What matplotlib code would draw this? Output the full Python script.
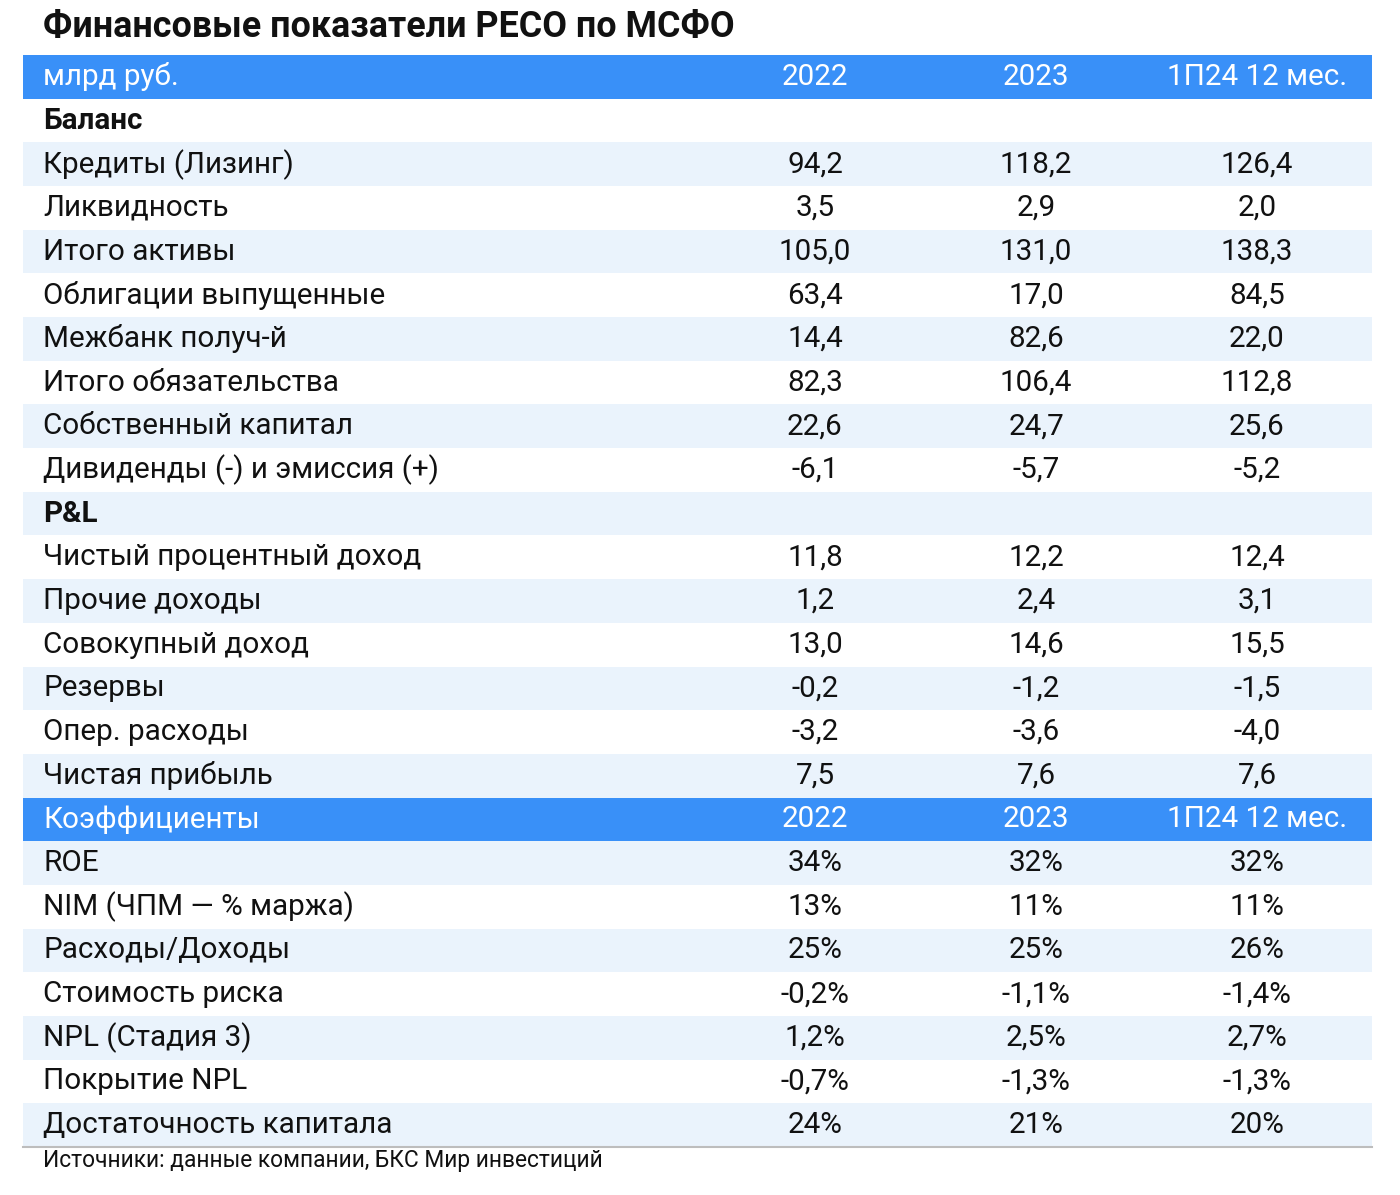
import matplotlib
matplotlib.use("Agg")
import matplotlib.pyplot as plt
from matplotlib.patches import Rectangle
from matplotlib import font_manager

names = {f.name for f in font_manager.fontManager.ttflist}
FONT = "Liberation Sans Narrow" if "Liberation Sans Narrow" in names else "Roboto"
plt.rcParams['font.family'] = [FONT, 'DejaVu Sans']

title = "Финансовые показатели РЕСО по МСФО"
unit_label = "млрд руб."
columns = ["2022", "2023", "1П24 12 мес."]
source = "Источники: данные компании, БКС Мир инвестиций"

sec_balance = "Баланс"
balance_labels = ["Кредиты (Лизинг)", "Ликвидность", "Итого активы", "Облигации выпущенные",
                  "Межбанк получ-й", "Итого обязательства", "Собственный капитал",
                  "Дивиденды (-) и эмиссия (+)"]
balance_2022 = ["94,2", "3,5", "105,0", "63,4", "14,4", "82,3", "22,6", "-6,1"]
balance_2023 = ["118,2", "2,9", "131,0", "17,0", "82,6", "106,4", "24,7", "-5,7"]
balance_1p24 = ["126,4", "2,0", "138,3", "84,5", "22,0", "112,8", "25,6", "-5,2"]

sec_pl = "P&L"
pl_labels = ["Чистый процентный доход", "Прочие доходы", "Совокупный доход", "Резервы",
             "Опер. расходы", "Чистая прибыль"]
pl_2022 = ["11,8", "1,2", "13,0", "-0,2", "-3,2", "7,5"]
pl_2023 = ["12,2", "2,4", "14,6", "-1,2", "-3,6", "7,6"]
pl_1p24 = ["12,4", "3,1", "15,5", "-1,5", "-4,0", "7,6"]

sec_ratios = "Коэффициенты"
ratio_labels = ["ROE", "NIM (ЧПМ — % маржа)", "Расходы/Доходы", "Стоимость риска",
                "NPL (Стадия 3)", "Покрытие NPL", "Достаточность капитала"]
ratio_2022 = ["34%", "13%", "25%", "-0,2%", "1,2%", "-0,7%", "24%"]
ratio_2023 = ["32%", "11%", "25%", "-1,1%", "2,5%", "-1,3%", "21%"]
ratio_1p24 = ["32%", "11%", "26%", "-1,4%", "2,7%", "-1,3%", "20%"]

BLUE = "#3990f8"
STRIPE = "#eaf3fc"

# build rows: (kind, label, values)
rows = [("header", unit_label, columns), ("section", sec_balance, None)]
rows += [("data", l, [a, b, c]) for l, a, b, c in zip(balance_labels, balance_2022, balance_2023, balance_1p24)]
rows += [("section", sec_pl, None)]
rows += [("data", l, [a, b, c]) for l, a, b, c in zip(pl_labels, pl_2022, pl_2023, pl_1p24)]
rows += [("header", sec_ratios, columns)]
rows += [("data", l, [a, b, c]) for l, a, b, c in zip(ratio_labels, ratio_2022, ratio_2023, ratio_1p24)]

W, H = 1400, 1195
fig = plt.figure(figsize=(W / 100, H / 100), dpi=100)
ax = fig.add_axes([0, 0, 1, 1])
ax.set_xlim(0, W)
ax.set_ylim(H, 0)
ax.axis("off")

left, right = 23, 1372
top = 55
rh = (1147 - 55) / 25
col_x = [815, 1036, 1257]
FS = 21.3

ax.text(43, 27, title, fontsize=25.8, fontweight="bold", va="center", ha="left", color="#111111")

for i, (kind, label, vals) in enumerate(rows):
    y0 = top + i * rh
    yc = y0 + rh / 2
    if kind == "header":
        ax.add_patch(Rectangle((left, y0), right - left, rh, color=BLUE, lw=0))
        color = "white"
    else:
        if (i - 1) % 2 == 1:
            ax.add_patch(Rectangle((left, y0), right - left, rh, color=STRIPE, lw=0))
        color = "#111111"
    ax.text(43, yc, label, fontsize=FS, va="center", ha="left", color=color,
            fontweight="bold" if kind == "section" else "normal")
    if vals:
        for x, v in zip(col_x, vals):
            ax.text(x, yc, v, fontsize=FS, va="center", ha="center", color=color)

ybot = top + len(rows) * rh
ax.plot([left, right], [ybot, ybot], color="#bdbdbd", lw=1.5)
ax.text(43, 1161, source, fontsize=16.4, va="center", ha="left", color="#111111")

fig.savefig("out.png", dpi=100, facecolor="white")
